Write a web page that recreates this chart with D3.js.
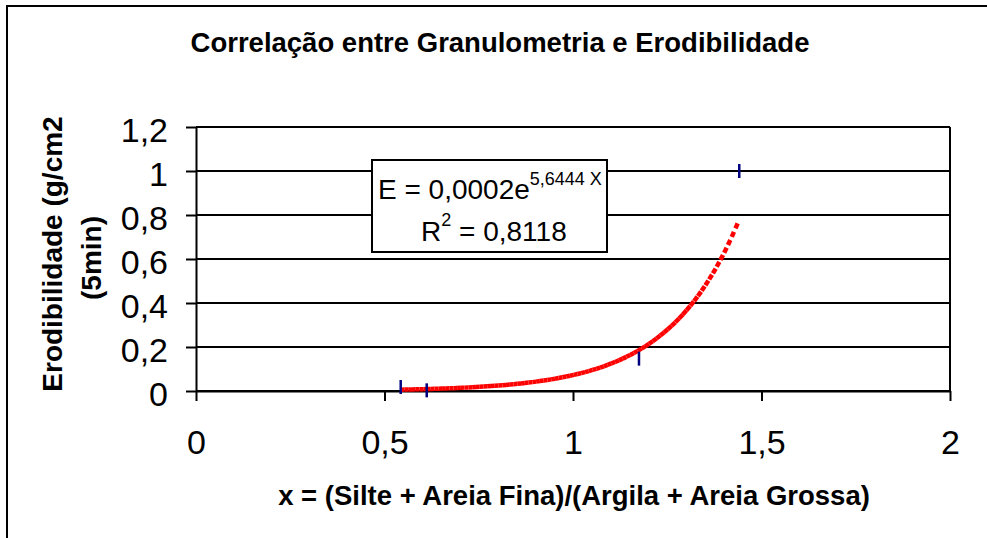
<!DOCTYPE html>
<html>
<head>
<meta charset="utf-8">
<script src="https://cdn.jsdelivr.net/npm/d3@7"></script>
<style>
  body { margin:0; background:#fff; }
  text { font-family: "Liberation Sans", Arial, sans-serif; fill:#000; }
</style>
</head>
<body>
<div id="chart-area"></div>
<script>
/* Data */
var xValues = [0.543, 0.612, 1.175, 1.441];
var yValues = [0.018, 0.003, 0.147, 1.0];
var xTicks = [0, 0.5, 1, 1.5, 2];
var yTicks = [0, 0.2, 0.4, 0.6, 0.8, 1, 1.2];

var titleText = "Correlação entre Granulometria e Erodibilidade";
var xTitle = "x = (Silte + Areia Fina)/(Argila + Areia Grossa)";
var yTitle = ["Erodibilidade (g/cm2", "(5min)"];
var eqMain = "E = 0,0002e";
var eqExp = "5,6444 X";
var eqR2 = " = 0,8118";


/* D3 Margin Convention */
var margin = {top:127, right:37, bottom:147, left:196};
var width = 987 - margin.left - margin.right;
var height = 538 - margin.top - margin.bottom;

var svg = d3.select("#chart-area").append("svg")
  .attr("width", 987)
  .attr("height", 538);

// outer chart frame (runs past the picture on right and bottom)
svg.append("rect")
  .attr("x", 7).attr("y", 6)
  .attr("width", 1000).attr("height", 600)
  .attr("fill", "none")
  .attr("stroke", "#000")
  .attr("stroke-width", 2);

var g = svg.append("g")
  .attr("transform", "translate("+margin.left+","+margin.top+")");


/* Scales */
var x = d3.scaleLinear()
  .domain([0, 2])
  .range([0, width]);

var y = d3.scaleLinear()
  .domain([0, 1.2])
  .range([height, 0]);

var comma = d => String(d).replace(".", ",");


/* Gridlines + plot border */
g.selectAll(".grid").data(yTicks).enter()
  .append("line")
  .attr("class", "grid")
  .attr("x1", 0).attr("x2", width)
  .attr("y1", d => y(d)).attr("y2", d => y(d))
  .attr("stroke", "#000")
  .attr("stroke-width", 2);

g.append("line")
  .attr("x1", width).attr("x2", width)
  .attr("y1", 0).attr("y2", height)
  .attr("stroke", "#000")
  .attr("stroke-width", 2);


/* Axes */
var xAxisCall = d3.axisBottom(x)
  .tickValues(xTicks)
  .tickSize(10)
  .tickSizeOuter(0)
  .tickPadding(29)
  .tickFormat(comma);
var xAxis = g.append("g")
  .attr("transform", "translate(0,"+height+")")
  .call(xAxisCall);

var yAxisCall = d3.axisLeft(y)
  .tickValues(yTicks)
  .tickSize(10)
  .tickSizeOuter(0)
  .tickPadding(18)
  .tickFormat(comma);
var yAxis = g.append("g")
  .call(yAxisCall);

[xAxis, yAxis].forEach(a => {
  a.select(".domain").attr("stroke", "#000").attr("stroke-width", 2);
  a.selectAll(".tick line").attr("stroke", "#000").attr("stroke-width", 2);
  a.selectAll(".tick text")
    .attr("font-family", "Liberation Sans, Arial, sans-serif")
    .attr("font-size", 34)
    .attr("fill", "#000");
});
yAxis.selectAll(".tick text").attr("dy", "0.42em");


/* Exponential trend line, least squares on ln(y) like the spreadsheet does */
var lnY = yValues.map(Math.log);
var mx = d3.mean(xValues), my = d3.mean(lnY);
var slope = d3.sum(xValues, (d,i) => (d-mx)*(lnY[i]-my)) / d3.sum(xValues, d => (d-mx)*(d-mx));
var coef = Math.exp(my - slope*mx);

var xMin = d3.min(xValues), xMax = d3.max(xValues);
var steps = 90;
var trendPts = d3.range(steps+1).map(i => {
  var xv = xMin + i*(xMax-xMin)/steps;
  return [xv, coef*Math.exp(slope*xv)];
});

// each piece gets its own dash so it looks like the dotted excel trend
g.selectAll(".trend").data(d3.pairs(trendPts)).enter()
  .append("line")
  .attr("class", "trend")
  .attr("x1", d => x(d[0][0])).attr("y1", d => y(d[0][1]))
  .attr("x2", d => x(d[1][0])).attr("y2", d => y(d[1][1]))
  .attr("stroke", "#ff0000")
  .attr("stroke-width", 4.5)
  .attr("stroke-dasharray", "5.5,30");


/* Points (dash markers) */
g.selectAll(".pt").data(xValues).enter()
  .append("line")
  .attr("class", "pt")
  .attr("x1", d => x(d)).attr("x2", d => x(d))
  .attr("y1", (d,i) => y(yValues[i]) - 7)
  .attr("y2", (d,i) => y(yValues[i]) + 7)
  .attr("stroke", "#000080")
  .attr("stroke-width", 2.5);


/* Equation box */
var eqBox = svg.append("g");
eqBox.append("rect")
  .attr("x", 372).attr("y", 160)
  .attr("width", 235).attr("height", 92)
  .attr("fill", "#fff")
  .attr("stroke", "#000")
  .attr("stroke-width", 2);

var eq1 = eqBox.append("text")
  .attr("x", 378).attr("y", 199)
  .attr("font-size", 28);
eq1.append("tspan").text(eqMain);
eq1.append("tspan").attr("font-size", 18).attr("dy", -14).text(eqExp);

var eq2 = eqBox.append("text")
  .attr("x", 421).attr("y", 241)
  .attr("font-size", 28);
eq2.append("tspan").text("R");
eq2.append("tspan").attr("font-size", 18).attr("dy", -15).text("2");
eq2.append("tspan").attr("dy", 15).text(eqR2);


/* Labels */
svg.append("text")
  .attr("x", 500).attr("y", 52)
  .attr("text-anchor", "middle")
  .attr("font-size", 27.5)
  .attr("font-weight", "bold")
  .text(titleText);

svg.append("text")
  .attr("x", 574).attr("y", 505)
  .attr("text-anchor", "middle")
  .attr("font-size", 27.5)
  .attr("font-weight", "bold")
  .text(xTitle);

yTitle.forEach((line, i) => {
  svg.append("text")
    .attr("transform", `translate(${[61.5, 101][i]},${[254, 258][i]}) rotate(-90)`)
    .attr("text-anchor", "middle")
    .attr("font-size", 28)
    .attr("font-weight", "bold")
    .text(line);
});
</script>
</body>
</html>
